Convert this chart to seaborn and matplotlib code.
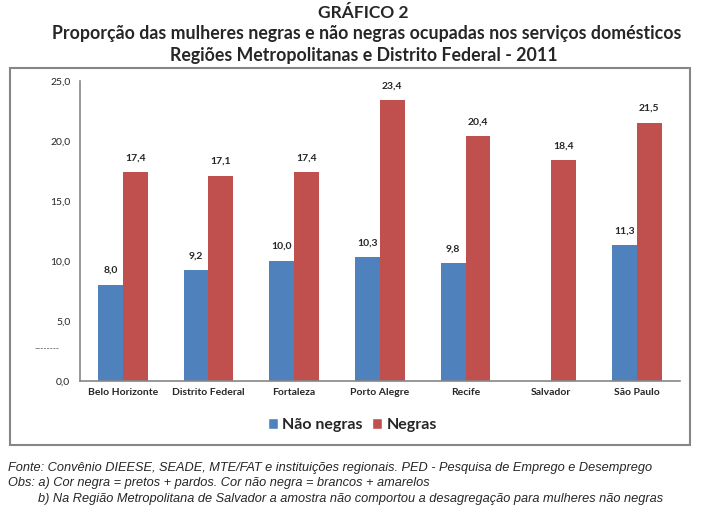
import numpy as np
import pandas as pd
import matplotlib
matplotlib.use("Agg")
import matplotlib.pyplot as plt
import seaborn as sns
from matplotlib.patches import Rectangle, Patch

regioes = ["Belo Horizonte", "Distrito Federal", "Fortaleza", "Porto Alegre",
           "Recife", "Salvador", "São Paulo"]
nao_negras = [8.0, 9.2, 10.0, 10.3, 9.8, np.nan, 11.3]
negras = [17.4, 17.1, 17.4, 23.4, 20.4, 18.4, 21.5]
series = ["Não negras", "Negras"]
cores = ["#4F81BD", "#C0504D"]
yticks = [0, 5, 10, 15, 20, 25]

df = pd.DataFrame({
    "regiao": regioes * 2,
    "grupo": [series[0]] * len(regioes) + [series[1]] * len(regioes),
    "valor": nao_negras + negras,
})

sns.set_style("white")
plt.rcParams["font.family"] = ["Lato", "DejaVu Sans"]

fig = plt.figure(figsize=(7.27, 5.21), dpi=100)
ax = fig.add_axes([0.110, 0.269, 0.825, 0.576])

sns.barplot(data=df, x="regiao", y="valor", hue="grupo", order=regioes,
            hue_order=series, palette=cores, width=0.58, gap=0,
            saturation=1, linewidth=0, ax=ax, legend=False)

for cont in ax.containers:
    labels = ["" if np.isnan(v) else f"{v:.1f}".replace(".", ",") for v in cont.datavalues]
    ax.bar_label(cont, labels=labels, padding=7, fontsize=7.5, fontweight="bold")

ax.set_ylim(0, 25)
ax.set_yticks(yticks)
ax.set_yticklabels([f"{v:.1f}".replace(".", ",") for v in yticks], fontsize=7.5)
ax.set_xticks(range(len(regioes)))
ax.set_xticklabels(regioes, fontsize=7.5, fontweight="bold")
ax.tick_params(axis="x", length=0, pad=5)
ax.tick_params(axis="y", length=4, width=1, color="#868686", direction="out", pad=3)
ax.set_xlabel("")
ax.set_ylabel("")
for s in ["top", "right"]:
    ax.spines[s].set_visible(False)
for s in ["left", "bottom"]:
    ax.spines[s].set_color("#868686")
    ax.spines[s].set_linewidth(1.2)

# legenda
handles = [Patch(facecolor=c, label=l) for c, l in zip(cores, series)]
fig.legend(handles=handles, loc="center", bbox_to_anchor=(0.485, 0.184), ncol=2,
           frameon=False, handlelength=0.6, handleheight=0.6,
           handletextpad=0.3, columnspacing=0.6, prop={"weight": "bold", "size": 11.5})

# moldura
fig.add_artist(Rectangle((0.0138, 0.146), 0.935, 0.723, transform=fig.transFigure,
                         fill=False, edgecolor="#868686", linewidth=1.5))
fig.text(0.048, 0.325, "--------", fontsize=6, color="#333333")

# títulos
fig.text(0.50, 0.975, "GRÁFICO 2", ha="center", va="center", fontsize=12.5, fontweight="bold")
fig.text(0.505, 0.935, "Proporção das mulheres negras e não negras ocupadas nos serviços domésticos",
         ha="center", va="center", fontsize=12.8, fontweight="bold")
fig.text(0.50, 0.894, "Regiões Metropolitanas e Distrito Federal - 2011",
         ha="center", va="center", fontsize=12.8, fontweight="bold")

# notas
nota_font = ["Liberation Sans Narrow", "Liberation Sans", "DejaVu Sans"]
fig.text(0.011, 0.102, "Fonte: Convênio DIEESE, SEADE, MTE/FAT e instituições regionais. PED - Pesquisa de Emprego e Desemprego",
         fontsize=9.2, style="italic", family=nota_font, va="center")
fig.text(0.011, 0.072, "Obs: a) Cor negra = pretos + pardos. Cor não negra = brancos + amarelos",
         fontsize=9.2, style="italic", family=nota_font, va="center")
fig.text(0.052, 0.042, "b) Na Região Metropolitana de Salvador a amostra não comportou a desagregação para mulheres não negras",
         fontsize=9.2, style="italic", family=nota_font, va="center")

fig.savefig("out.png", dpi=100)
